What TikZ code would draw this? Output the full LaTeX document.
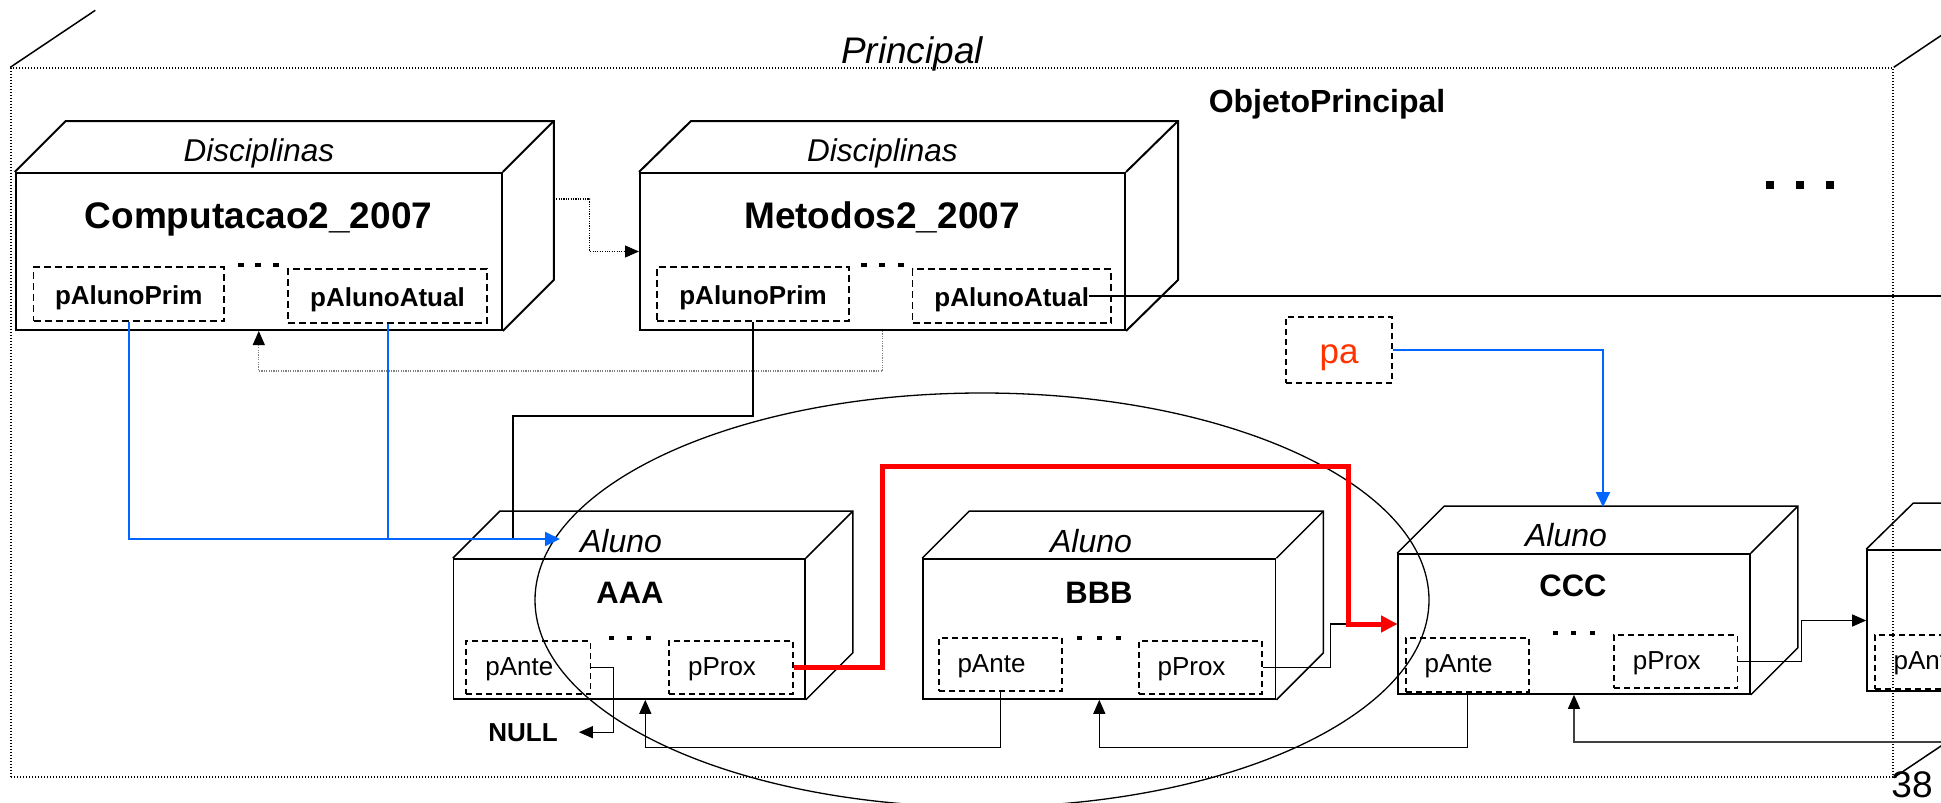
\documentclass[tikz,border=0pt]{standalone}
\usepackage{fontspec}
\setmainfont{Liberation Sans}
\usetikzlibrary{arrows.meta,calc}
\definecolor{blueC}{RGB}{0,102,255}
\definecolor{paC}{RGB}{255,51,0}
\definecolor{redC}{RGB}{255,0,0}
\newcommand{\boxfaces}[4]{%
  \draw[#4] (#1.north west) -- ++(#2,-#3) -- ($(#1.north east)+(#2,-#3)$) -- ($(#1.south east)+(#2,-#3)$) -- (#1.south east);
  \draw[#4] (#1.north east) -- ++(#2,-#3);
}
\begin{document}
\begin{tikzpicture}[x=1pt,y=-1pt,
  lbl/.style={anchor=base,inner sep=0pt},
  fPrin/.style={font=\fontsize{37}{42}\selectfont\itshape},
  fObj/.style={font=\fontsize{32}{38}\selectfont\bfseries},
  fDisc/.style={font=\fontsize{31.5}{36}\selectfont\itshape},
  fName/.style={font=\fontsize{37}{42}\selectfont\bfseries},
  fAluno/.style={font=\fontsize{32}{38}\selectfont\itshape},
  fAName/.style={font=\fontsize{31}{36}\selectfont\bfseries},
  discfront/.style={draw,line width=2pt,inner sep=0pt},
  alufront/.style={draw,line width=1.6pt,inner sep=0pt},
  discface/.style={line width=2pt,line join=miter},
  aluface/.style={line width=1.5pt,line join=miter},
  discptr/.style={draw,line width=1.8pt,dash pattern=on 7pt off 4pt,inner sep=0pt,
     font=\fontsize{26}{30}\selectfont\bfseries,text height=20pt,text depth=0pt},
  aluptr/.style={draw,line width=1.5pt,dash pattern=on 6pt off 4pt,inner sep=0pt,
     font=\fontsize{26}{30}\selectfont,text height=15pt,text depth=0pt,minimum height=53pt},
  frame/.style={draw,line width=1.4pt,dash pattern=on 1.4pt off 1.6pt,inner sep=0pt},
  conn/.style={line width=1.2pt},
  tipB/.style={-{Triangle[length=14pt,width=12pt,color=black]}},
  bluel/.style={draw=blueC,line width=2pt},
  tipBl/.style={-{Triangle[length=15pt,width=14pt]}},
  redl/.style={draw=redC,line width=5pt},
  tipR/.style={-{Triangle[length=16pt,width=16pt]}},
  dotc/.style={line width=1.1pt,dash pattern=on 1.1pt off 1.3pt}
]
\useasboundingbox (0,0) rectangle (1941,803);
\fill[white] (0,0) rectangle (1941,803);
\clip (0,0) rectangle (1941,803);

% outer frame
\node[frame,minimum width=1882pt,minimum height=709pt] (frame) at (952,422.5) {};
\draw[line width=1.5pt] (frame.north west) -- ++(85,-57);
\draw[line width=1.5pt] (frame.north east) -- ++(85,-57);
\draw[line width=1.5pt] (frame.south east) -- ++(85,-57);
\node[lbl,fPrin] (principal) at (912,63) {Principal};
\node[lbl,fObj] (objp) at (1327,112) {ObjetoPrincipal};
\foreach \x in {1770,1800,1830} \fill (\x-4,181) rectangle (\x+4,189);

% ellipse
\draw[line width=1.3pt] (982,600) ellipse [x radius=447, y radius=207];

% Disciplinas boxes
\node[discfront,minimum width=486pt,minimum height=157pt] (comp) at (258.8,251.5) {};
\boxfaces{comp}{51}{51}{discface}
\node[lbl,fDisc] (compD) at (258.8,161) {Disciplinas};
\node[lbl,fName] (compN) at (258.5,228) {Computacao2\_2007};
\node[discptr,minimum width=190.5pt,minimum height=54pt] (cprim) at (128.75,294) {pAlunoPrim};
\node[discptr,minimum width=199pt,minimum height=54pt] (catual) at (387.5,296) {pAlunoAtual};
\foreach \x in {241,258,276} \fill (\x-3,263) rectangle (\x+3,267);

\node[discfront,minimum width=485pt,minimum height=157pt] (met) at (882.5,251.5) {};
\boxfaces{met}{52}{51}{discface}
\node[lbl,fDisc] (metD) at (882.5,161) {Disciplinas};
\node[lbl,fName] (metN) at (882,228) {Metodos2\_2007};
\node[discptr,minimum width=192pt,minimum height=54pt] (mprim) at (753,294) {pAlunoPrim};
\node[discptr,minimum width=198.5pt,minimum height=54pt] (matual) at (1011.75,296) {pAlunoAtual};
\foreach \x in {864,882,901} \fill (\x-3,263) rectangle (\x+3,267);

% pa
\node[draw,line width=1.5pt,dash pattern=on 6pt off 4pt,inner sep=0pt,minimum width=106pt,minimum height=66pt,
  text=paC,font=\fontsize{35}{40}\selectfont,text height=26pt,text depth=0pt] (pa) at (1339,350) {pa};

% Aluno boxes
\node[alufront,minimum width=351.4pt,minimum height=140pt] (aaa) at (629.3,629) {};
\boxfaces{aaa}{47}{47}{aluface}
\node[lbl,fAluno] (aaaA) at (621,552) {Aluno};
\node[lbl,fAName] (aaaN) at (630,603) {AAA};
\node[aluptr,minimum width=124.6pt] (apante) at (528.3,667.5) {pAnte\hspace*{18pt}};
\node[aluptr,minimum width=124pt] (aprox) at (731,667.5) {pProx\hspace*{18pt}};
\foreach \x in {611,629,648} \fill (\x-2.5,636) rectangle (\x+2.5,640);

\node[alufront,minimum width=352.6pt,minimum height=140pt] (bbb) at (1099.3,629) {};
\boxfaces{bbb}{47}{47}{aluface}
\node[lbl,fAluno] (bbbA) at (1091,552) {Aluno};
\node[lbl,fAName] (bbbN) at (1099,603) {BBB};
\node[aluptr,minimum width=123pt] (bpante) at (1000.5,664.5) {pAnte\hspace*{18pt}};
\node[aluptr,minimum width=123pt] (bprox) at (1200.5,667.5) {pProx\hspace*{18pt}};
\foreach \x in {1079,1099,1118} \fill (\x-2.5,636) rectangle (\x+2.5,640);

\node[alufront,minimum width=352pt,minimum height=140pt] (ccc) at (1574,624) {};
\boxfaces{ccc}{47}{47}{aluface}
\node[lbl,fAluno] (cccA) at (1566,546) {Aluno};
\node[lbl,fAName] (cccN) at (1573,596) {CCC};
\node[aluptr,minimum width=123pt,minimum height=54pt] (cpante) at (1467.5,665) {pAnte\hspace*{18pt}};
\node[aluptr,minimum width=123.5pt] (cprox) at (1675.75,661.5) {pProx\hspace*{18pt}};
\foreach \x in {1555,1573,1592} \fill (\x-2.5,631) rectangle (\x+2.5,635);

\node[alufront,minimum width=352pt,minimum height=141pt] (nxt) at (2043,620.5) {};
\boxfaces{nxt}{47}{46}{aluface}
\node[aluptr,minimum width=123pt,minimum height=54pt] (npante) at (1936.5,662) {pAnte\hspace*{18pt}};

\node[lbl,font=\fontsize{26}{30}\selectfont\bfseries] (null) at (523,741) {NULL};
\node[lbl,font=\fontsize{37}{42}\selectfont] (pagenum) at (1912,797) {38};

% coordinates
\coordinate (aaain) at (560,539);
\coordinate (metjoin) at (513,539);
\coordinate (rightA) at (1960,296);
\coordinate (rightB) at (1960,742);
\coordinate (ccctop) at (1603,507);

% connectors
\draw[dotc,tipB] ($(comp.north east)+(51,27)$) -- ++(36,0) |- (met.west);
\draw[dotc,draw=gray,tipB] (met.south) -- ++(0,40) -| (comp.south);
\draw[line width=1.8pt] ($(matual.east)+(-23,0)$) -- (rightA);
\draw[conn] (mprim.south) -- ++(0,94) -| (metjoin);
\draw[bluel,tipBl] (cprim.south) |- (aaain);
\draw[bluel] (catual.south) -- (catual.south |- aaain);
\draw[bluel,tipBl] (pa.east) -| (ccctop);

\draw[conn,tipB] (apante.east) -- ++(22.4,0) |- ($(null.east)+(21,0)$);
\draw[conn,tipB] (bpante.south) -- ++(0,56) -| ($(aaa.south)+(16,0)$);
\draw[conn,tipB] (cpante.south) -- ++(0,55) -| (bbb.south);
\draw[conn,draw=black!75,tipB] (rightB) -| (ccc.south);
\draw[conn,tipB] (bprox.east) -- ++(67.5,0) |- (ccc.west);
\draw[conn,tipB] (cprox.east) -- ++(63.5,0) |- (nxt.west);
\draw[redl,tipR] (aprox.east) -- ++(89,0) -- ++(0,-201.5) -| ($(ccc.west)+(-49,0)$) -- (ccc.west);
\end{tikzpicture}
\end{document}
